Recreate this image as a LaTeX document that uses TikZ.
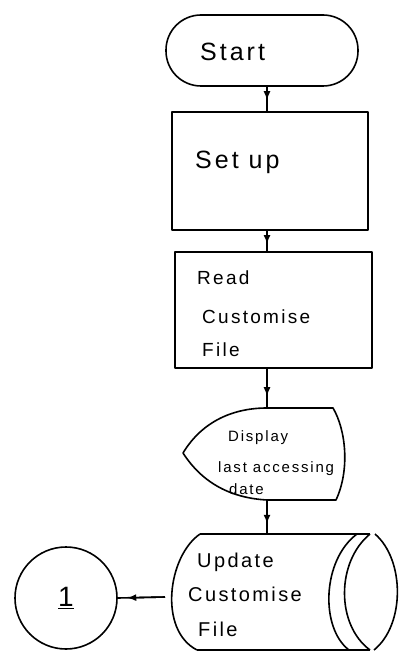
\documentclass[tikz,border=0pt]{standalone}
\usepackage{fontspec}
\setmainfont{Liberation Sans}
\newfontfamily\hand[LetterSpace=12]{Liberation Sans}
\usetikzlibrary{arrows.meta,calc}
\tikzset{
  line/.style={line width=1.6pt, line join=round},
  box/.style={line, draw, rectangle, inner sep=0pt},
  txt/.style={anchor=base west, inner sep=0pt, font=\hand},
  headtip/.style={line, -{Latex[length=9pt,width=7pt]}}
}
\newcommand{\flowline}[3]{%
  \draw[line] #1 -- #2;
  \draw[headtip] #1 -- ($#1!#3!#2$);}
\begin{document}
\begin{tikzpicture}[x=1pt,y=-1pt]
\useasboundingbox (0,0) rectangle (406,663);
\coordinate (axis) at (267,0);
% Start terminal
\node[box, minimum width=192pt, minimum height=71pt, rounded corners=35pt] (start) at (262,50.5) {};
\node[txt, font=\hand\fontsize{25}{25}\selectfont] (starttxt) at (200,61) {Start};
% Set up
\node[box, minimum width=196pt, minimum height=118pt] (setup) at (270,171) {};
\node[txt, font=\hand\fontsize{25}{25}\selectfont] (setuptxt) at (195,168) {Set up};
% Read customise file
\node[box, minimum width=197pt, minimum height=116pt] (read) at (273.5,310) {};
\node[txt, font=\hand\fontsize{19}{19}\selectfont] (r1) at (197,284) {Read};
\node[txt, font=\hand\fontsize{19}{19}\selectfont] (r2) at (202,323) {Customise};
\node[txt, font=\hand\fontsize{19}{19}\selectfont] (r3) at (202,356) {File};
% Display
\coordinate (disptop) at (267,408);
\coordinate (dispbot) at (267,500);
\draw[line] (183,453) .. controls (203,420) and (235,408) .. (disptop) -- (333,408)
  .. controls (346,430) and (350,470) .. (336,500) -- (dispbot)
  .. controls (232,498) and (203,484) .. (183,453) -- cycle;
\node[txt, font=\hand\fontsize{15}{15}\selectfont] (d1) at (228,441) {Display};
\node[txt, font=\hand\fontsize{15}{15}\selectfont] (d2) at (218,472) {last accessing};
\node[txt, font=\hand\fontsize{15}{15}\selectfont] (d3) at (229,494) {date};
% Update customise file (stored data)
\coordinate (cyltop) at (267,534);
\coordinate (cylleft) at (165,597);
\draw[line] (200,534) -- (370,534);
\draw[line] (197,650) -- (370,650);
\draw[line] (200,534) .. controls (168,556) and (158,630) .. (197,650);
\draw[line] (357,534) .. controls (322,560) and (320,628) .. (349,650);
\draw[line] (370,534) .. controls (336,562) and (336,625) .. (370,650);
\draw[line] (375,534) .. controls (405,560) and (405,625) .. (374,650);
\node[txt, font=\hand\fontsize{20}{20}\selectfont] (u1) at (197,567) {Update};
\node[txt, font=\hand\fontsize{20}{20}\selectfont] (u2) at (188,601) {Customise};
\node[txt, font=\hand\fontsize{20}{20}\selectfont] (u3) at (198,636) {File};
% Connector circle
\node[line, draw, circle, minimum size=102pt, inner sep=0pt, font=\fontsize{28}{28}\selectfont] (conn) at (66,598) {\underline{1}};
% Connectors
\flowline{(start.south -| axis)}{(setup.north -| axis)}{0.55}
\flowline{(setup.south -| axis)}{(read.north -| axis)}{0.65}
\flowline{(read.south -| axis)}{(disptop)}{0.7}
\flowline{(dispbot)}{(cyltop)}{0.7}
\flowline{(cylleft)}{(conn.east)}{0.8}
\end{tikzpicture}
\end{document}
